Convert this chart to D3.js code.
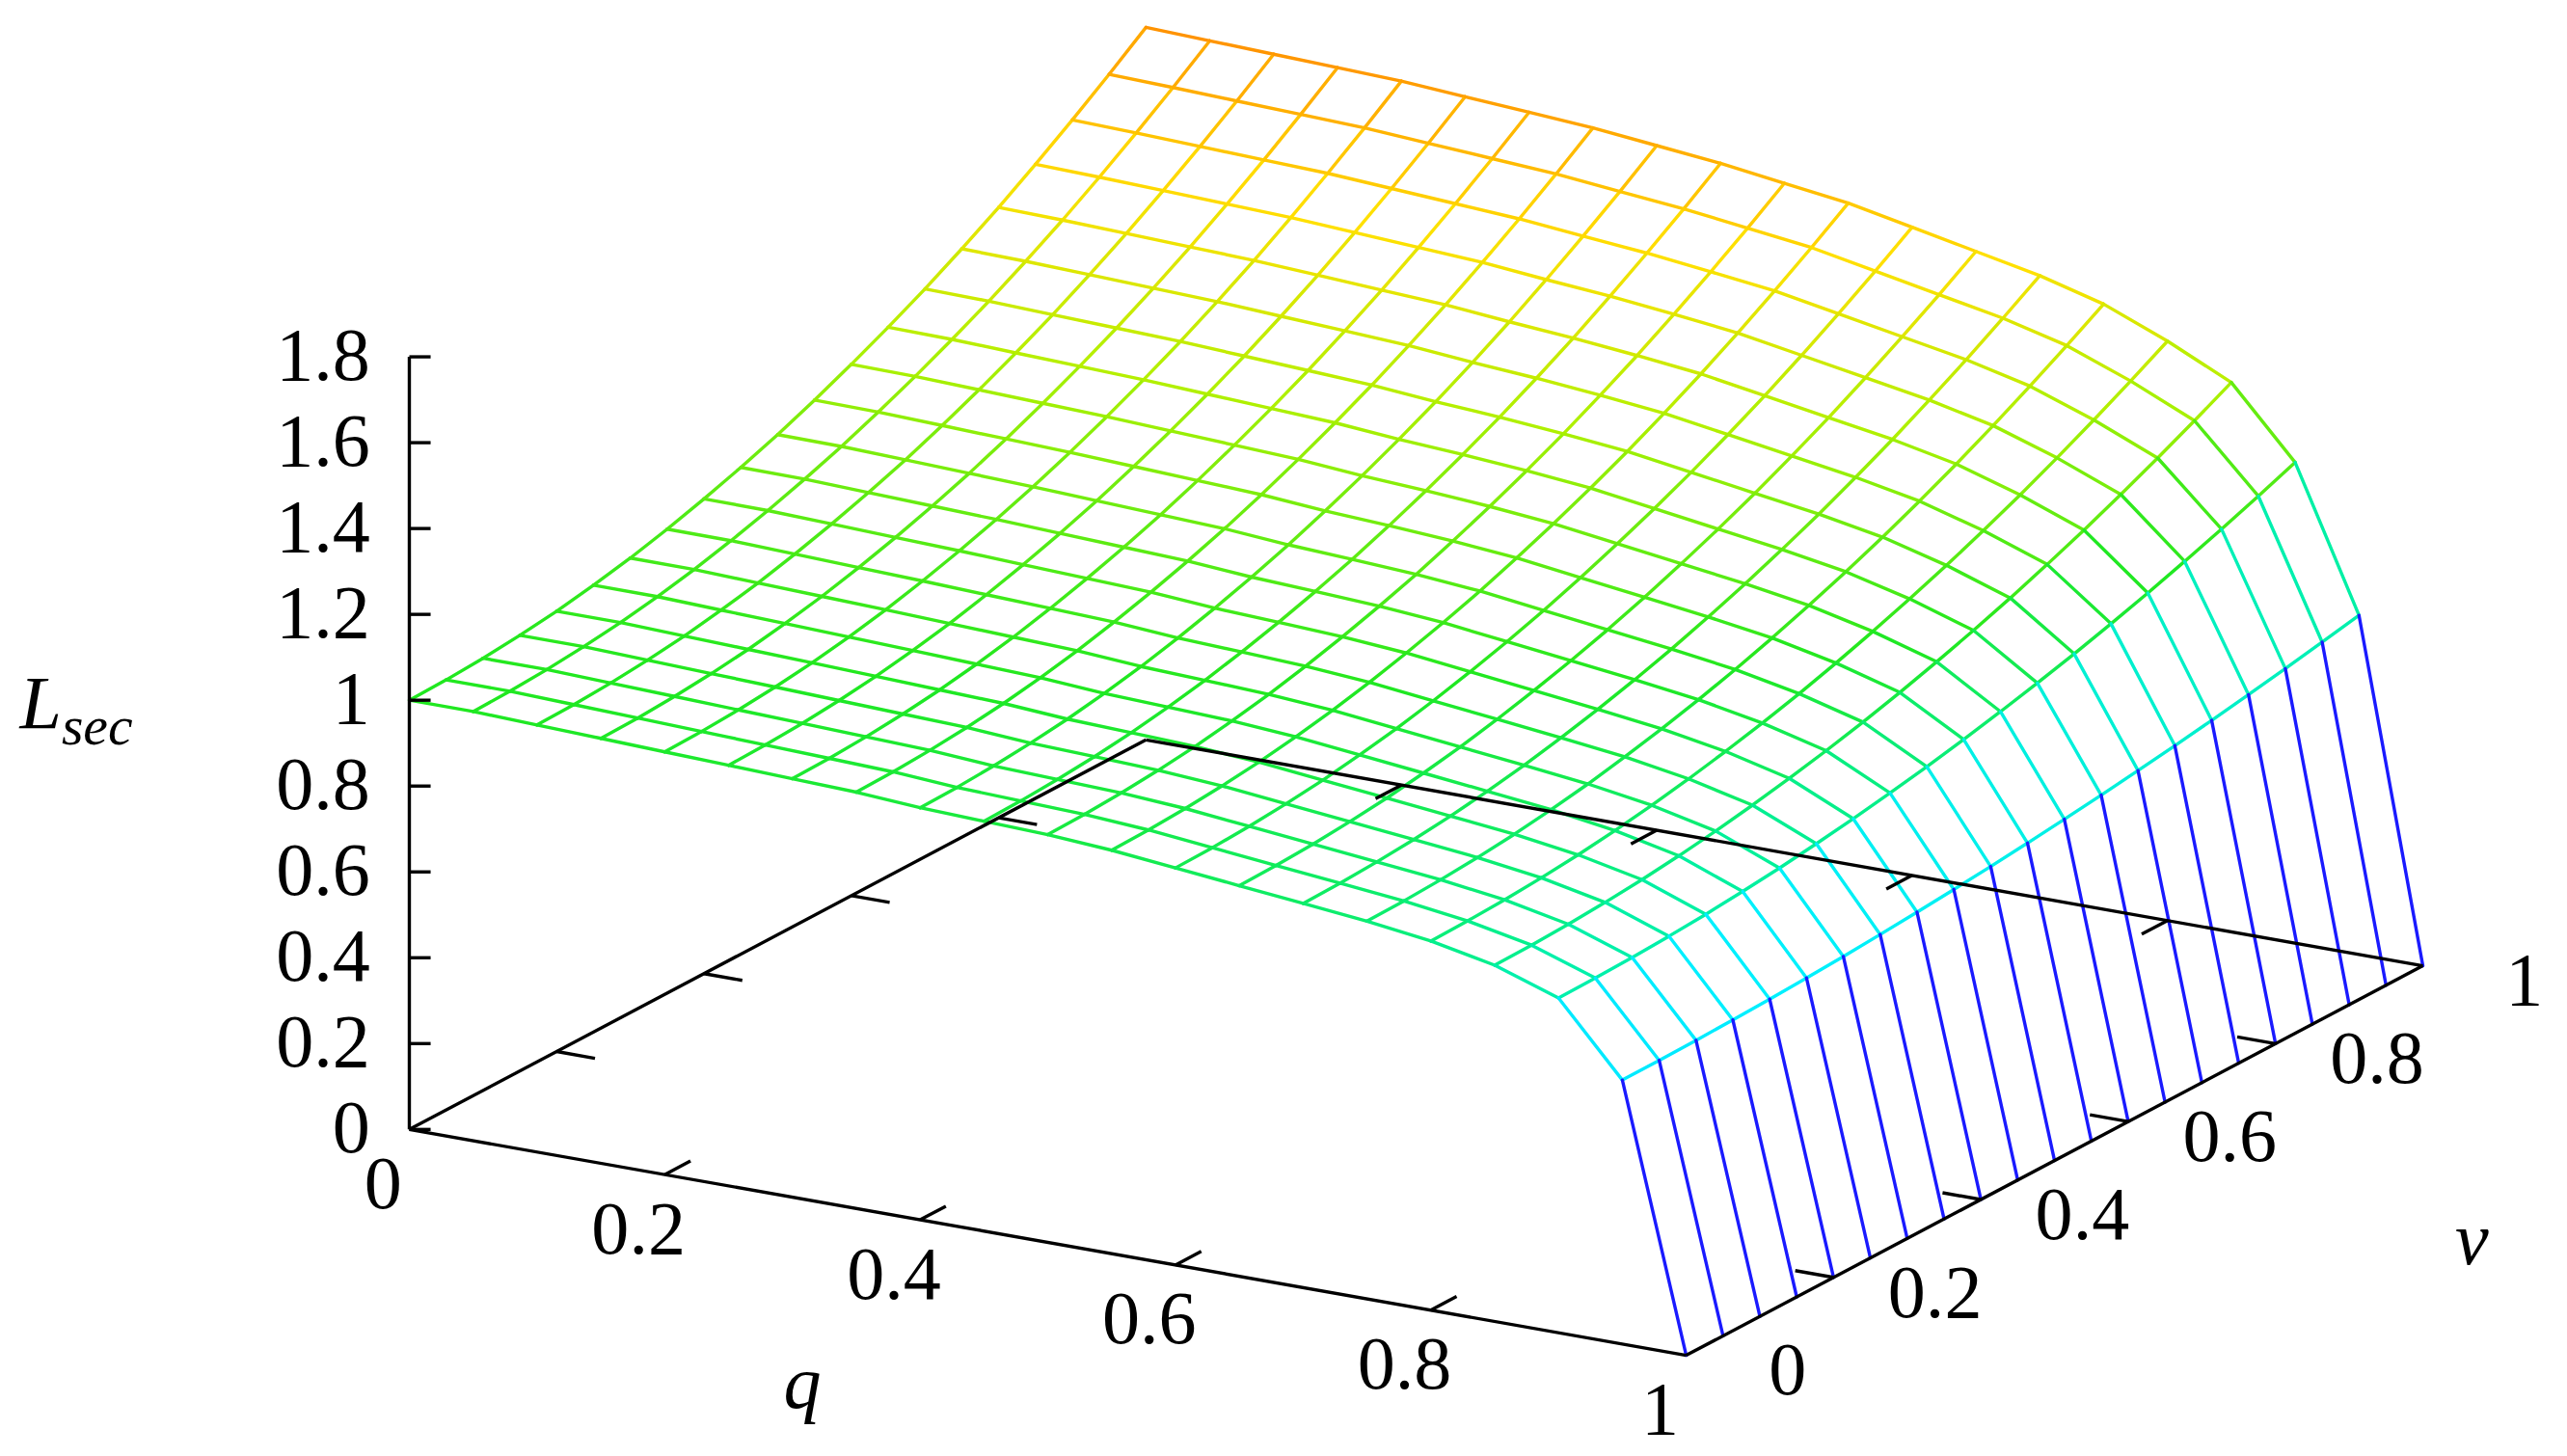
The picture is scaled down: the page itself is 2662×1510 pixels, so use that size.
<!DOCTYPE html>
<html><head><meta charset="utf-8">
<script src="https://cdn.jsdelivr.net/npm/d3@7"></script>
<style>html,body{margin:0;padding:0;background:#fff} text{font-family:"Liberation Serif","DejaVu Serif",serif}</style>
</head><body>
<script>
// ---- data ----
const qGrid = [0,0.05,0.1,0.15,0.2,0.25,0.3,0.35,0.4,0.45,0.5,0.55,0.6,0.65,0.7,0.75,0.8,0.85,0.9,0.95,1];
const vGrid = [0,0.05,0.1,0.15,0.2,0.25,0.3,0.35,0.4,0.45,0.5,0.55,0.6,0.65,0.7,0.75,0.8,0.85,0.9,0.95,1];
// L_sec along q at v = 0 (front edge)
const Lv0 = [1.00,1.00,0.995,0.99,0.985,0.98,0.975,0.97,0.96,0.955,0.95,0.94,0.925,0.91,0.895,0.88,0.86,0.83,0.78,0.615,0];
// L_sec along q at v = 1 (back edge)
const Lv1 = [1.66,1.655,1.65,1.645,1.64,1.63,1.62,1.61,1.595,1.58,1.56,1.54,1.51,1.48,1.45,1.41,1.35,1.28,1.12,0.79,0];
// L_sec along v at q = 0 (left edge)
const Lq0 = [1.00,1.002,1.007,1.015,1.026,1.041,1.059,1.081,1.106,1.134,1.165,1.2,1.238,1.279,1.323,1.371,1.422,1.477,1.535,1.596,1.66];
const zTicks = [0,0.2,0.4,0.6,0.8,1,1.2,1.4,1.6,1.8];
const zTickLabels = ["0","0.2","0.4","0.6","0.8","1","1.2","1.4","1.6","1.8"];
const qTicks = [0,0.2,0.4,0.6,0.8,1];
const qTickLabels = ["0","0.2","0.4","0.6","0.8","1"];
const vTicks = [0,0.2,0.4,0.6,0.8,1];
const vTickLabels = ["0","0.2","0.4","0.6","0.8","1"];

// surface grid built from the three read edges
const wV = Lq0.map(d => (d - Lq0[0]) / (Lq0[Lq0.length-1] - Lq0[0]));
const Z = qGrid.map((q,i) => vGrid.map((v,j) => Lv0[i] + (Lv1[i]-Lv0[i]) * wV[j]));

// ---- projection via scales ----
const W = 1568, H = 889.5;
const svg = d3.select("body").append("svg")
  .attr("width",2662).attr("height",1510).attr("viewBox",`0 0 ${W} ${H}`);
const qx = d3.scaleLinear([0,1],[0,780]), qy = d3.scaleLinear([0,1],[0,138]);
const vx = d3.scaleLinear([0,1],[0,450]), vy = d3.scaleLinear([0,1],[0,-238]);
const zy = d3.scaleLinear([0,1.8],[0,-472]);
const P = (q,v,z) => [250 + qx(q) + vx(v), 690 + qy(q) + vy(v) + zy(z)];
const color = d3.scaleLinear()
  .domain([0,0.45,0.62,0.8,1.0,1.25,1.45,1.75])
  .range(["#1a1aff","#1a1aff","#00f0ff","#00f0a0","#20e820","#b0f000","#ffe000","#ff7000"]).clamp(true);

const line = d3.line();
const seg = (a,b,g,c) => g.append("path").attr("d",line([a,b])).attr("stroke",c||null);

const surf = svg.append("g").attr("fill","none").attr("stroke-width",2).attr("stroke-linecap","round");
for (let i=0;i<qGrid.length;i++) for (let j=0;j<vGrid.length;j++) {
  const a = P(qGrid[i],vGrid[j],Z[i][j]);
  if (j+1<vGrid.length && i<qGrid.length-1) { const z2=Z[i][j+1]; seg(a,P(qGrid[i],vGrid[j+1],z2),surf,color(Math.min(Z[i][j],z2))); }
  if (i+1<qGrid.length) { const z2=Z[i+1][j]; seg(a,P(qGrid[i+1],vGrid[j],z2),surf,color(Math.min(Z[i][j],z2))); }
}

const axis = svg.append("g").attr("stroke","#000").attr("stroke-width",2).attr("fill","none");
seg(P(0,0,0),P(1,0,0),axis); seg(P(1,0,0),P(1,1,0),axis);
seg(P(1,1,0),P(0,1,0),axis); seg(P(0,1,0),P(0,0,0),axis);
seg(P(0,0,0),P(0,0,1.8),axis);
zTicks.forEach(z => seg(P(0,0,z),[P(0,0,z)[0]+13,P(0,0,z)[1]],axis));
qTicks.slice(1,-1).forEach(q => { seg(P(q,0,0),P(q,0.035,0),axis); seg(P(q,1,0),P(q,0.965,0),axis); });
vTicks.slice(1,-1).forEach(v => { seg(P(1,v,0),P(0.97,v,0),axis); seg(P(0,v,0),P(0.03,v,0),axis); });

const txt = svg.append("g").attr("font-size",46).attr("fill","#000");
zTicks.forEach((z,k) => txt.append("text").attr("x",226).attr("y",P(0,0,z)[1]+14).attr("text-anchor","end").text(zTickLabels[k]));
qTicks.forEach((q,k) => { const p=P(q,0,0); txt.append("text").attr("x",p[0]-16).attr("y",p[1]+48).attr("text-anchor","middle").text(qTickLabels[k]); });
vTicks.forEach((v,k) => { const p=P(1,v,0); txt.append("text").attr("x",p[0]+62).attr("y",p[1]+24).attr("text-anchor","middle").text(vTickLabels[k]); });
txt.append("text").attr("x",490).attr("y",860).attr("font-style","italic").attr("text-anchor","middle").text("q");
txt.append("text").attr("x",1510).attr("y",772).attr("font-style","italic").attr("text-anchor","middle").text("v");
const L = txt.append("text").attr("x",12).attr("y",445).attr("font-style","italic");
L.append("tspan").text("L");
L.append("tspan").attr("dy",10).attr("font-size",34).text("sec");
</script>
</body></html>
